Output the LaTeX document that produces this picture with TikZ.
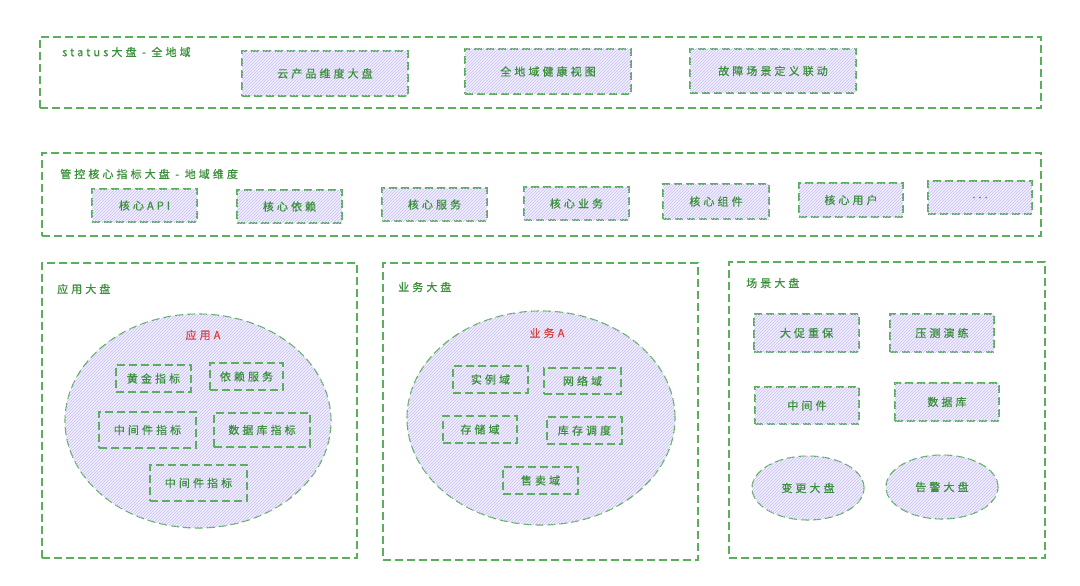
\documentclass[tikz,border=0pt]{standalone}
\usepackage{fontspec}
\setmainfont{Noto Sans CJK SC}[LetterSpace=28,FakeBold=0.6]
\usetikzlibrary{shapes.geometric,patterns}
\definecolor{dgreen}{HTML}{5BAE5B}
\definecolor{tgreen}{HTML}{3A8F3A}
\definecolor{tred}{HTML}{D94040}
\definecolor{lav}{HTML}{F1EEFD}
\definecolor{lavline}{HTML}{C9C0F3}
\tikzset{
  dsh/.style={draw=dgreen, line width=1.1pt, dash pattern=on 8pt off 4pt},
  frame/.style={dsh, rectangle, inner sep=0pt},
  hatch/.style={fill=lav, postaction={pattern=north east lines, pattern color=lavline}},
  box/.style={dsh, hatch, rectangle, inner sep=0pt, text=tgreen, font=\fontsize{11}{13}\selectfont},
  ebox/.style={dsh, hatch, ellipse, inner sep=0pt, text=tgreen, font=\fontsize{11}{13}\selectfont},
  ibox/.style={dsh, rectangle, inner sep=0pt, text=tgreen, font=\fontsize{11}{13}\selectfont},
  ttl/.style={anchor=west, text=tgreen, inner sep=0pt, font=\fontsize{11}{13}\selectfont},
  rtl/.style={text=tred, inner sep=0pt, font=\fontsize{11}{13}\selectfont},
}
\begin{document}
\begin{tikzpicture}[x=1pt,y=-1pt]
\useasboundingbox[fill=white] (0,0) rectangle (1080,586);
% row 1
\node[frame, minimum width=1001pt, minimum height=71pt] (f1) at (540.5,72.5) {};
\node[ttl] (t1) at (62,52) {status大盘 - 全地域};
\node[box, minimum width=166pt, minimum height=45pt] (b11) at (325,73.5) {云产品维度大盘};
\node[box, minimum width=166pt, minimum height=45pt] (b12) at (548,71.5) {全地域健康视图};
\node[box, minimum width=166pt, minimum height=44pt] (b13) at (773,71) {故障场景定义联动};
% row 2
\node[frame, minimum width=999pt, minimum height=83pt] (f2) at (541.5,194.5) {};
\node[ttl] (t2) at (60,174) {管控核心指标大盘 - 地域维度};
\node[box, minimum width=105pt, minimum height=33pt] (b21) at (144.5,205.5) {核心API};
\node[box, minimum width=105pt, minimum height=33pt] (b22) at (289.5,206.5) {核心依赖};
\node[box, minimum width=105pt, minimum height=33pt] (b23) at (434.5,204.5) {核心服务};
\node[box, minimum width=105pt, minimum height=33pt] (b24) at (576.5,203.5) {核心业务};
\node[box, minimum width=106pt, minimum height=35pt] (b25) at (716,201.5) {核心组件};
\node[box, minimum width=104pt, minimum height=34pt] (b26) at (851,200) {核心用户};
\node[box, minimum width=104pt, minimum height=33pt] (b27) at (980,197.5) {...};
% row 3 left
\node[frame, minimum width=315pt, minimum height=295pt] (f3) at (199.5,410.5) {};
\node[ttl] (t3) at (57,289) {应用大盘};
\node[dsh, hatch, ellipse, minimum width=266pt, minimum height=214pt, inner sep=0pt] (e1) at (198,421) {};
\node[rtl] (a1) at (203,335) {应用A};
\node[ibox, minimum width=75pt, minimum height=27pt] (c1) at (153.5,378.5) {黄金指标};
\node[ibox, minimum width=73pt, minimum height=27pt] (c2) at (246.5,376.5) {依赖服务};
\node[ibox, minimum width=97pt, minimum height=36pt] (c3) at (147.5,430) {中间件指标};
\node[ibox, minimum width=96pt, minimum height=34pt] (c4) at (262,430) {数据库指标};
\node[ibox, minimum width=97pt, minimum height=36pt] (c5) at (198.5,483) {中间件指标};
% row 3 middle
\node[frame, minimum width=315pt, minimum height=297pt] (f4) at (540.5,411.5) {};
\node[ttl] (t4) at (398,287) {业务大盘};
\node[dsh, hatch, ellipse, minimum width=268pt, minimum height=214pt, inner sep=0pt] (e2) at (541,418) {};
\node[rtl] (a2) at (547,333) {业务A};
\node[ibox, minimum width=75pt, minimum height=27pt] (d1) at (490.5,379.5) {实例域};
\node[ibox, minimum width=77pt, minimum height=26pt] (d2) at (582.5,381) {网络域};
\node[ibox, minimum width=74pt, minimum height=27pt] (d3) at (480,429.5) {存储域};
\node[ibox, minimum width=75pt, minimum height=27pt] (d4) at (584.5,430.5) {库存调度};
\node[ibox, minimum width=75pt, minimum height=27pt] (d5) at (540.5,480.5) {售卖域};
% row 3 right
\node[frame, minimum width=316pt, minimum height=296pt] (f5) at (887,410) {};
\node[ttl] (t5) at (746,283) {场景大盘};
\node[box, minimum width=105pt, minimum height=38pt] (g1) at (806.5,333) {大促重保};
\node[box, minimum width=104pt, minimum height=38pt] (g2) at (942,333) {压测演练};
\node[box, minimum width=104pt, minimum height=37pt] (g3) at (807,405.5) {中间件};
\node[box, minimum width=104pt, minimum height=38pt] (g4) at (947,402) {数据库};
\node[ebox, minimum width=112pt, minimum height=64pt] (g5) at (808,488) {变更大盘};
\node[ebox, minimum width=112pt, minimum height=64pt] (g6) at (942,487) {告警大盘};
\end{tikzpicture}
\end{document}
